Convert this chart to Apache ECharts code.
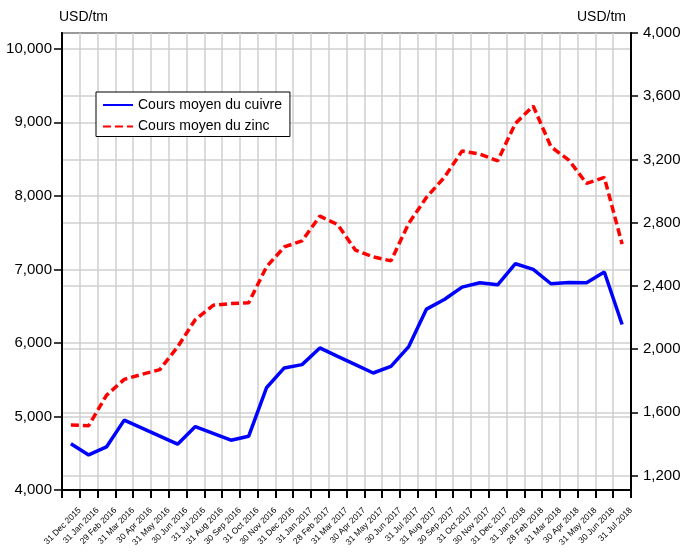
<!DOCTYPE html>
<html>
<head>
<meta charset="utf-8">
<script src="https://cdn.jsdelivr.net/npm/echarts@6/dist/echarts.min.js"></script>
<style>
  html, body { margin: 0; padding: 0; background: #fff; }
  #chart { width: 681px; height: 555px; }
</style>
</head>
<body>
<div id="chart"></div>
<script>
var months = ['31 Dec 2015', '31 Jan 2016', '29 Feb 2016', '31 Mar 2016', '30 Apr 2016', '31 May 2016',
  '30 Jun 2016', '31 Jul 2016', '31 Aug 2016', '30 Sep 2016', '31 Oct 2016', '30 Nov 2016',
  '31 Dec 2016', '31 Jan 2017', '28 Feb 2017', '31 Mar 2017', '30 Apr 2017', '31 May 2017',
  '30 Jun 2017', '31 Jul 2017', '31 Aug 2017', '30 Sep 2017', '31 Oct 2017', '30 Nov 2017',
  '31 Dec 2017', '31 Jan 2018', '28 Feb 2018', '31 Mar 2018', '30 Apr 2018', '31 May 2018',
  '30 Jun 2018', '31 Jul 2018'];

// cuivre, axe de gauche
var copper = [4630, 4477, 4586, 4950, 4841, 4732, 4623, 4863, 4770, 4677, 4732, 5390,
  5660, 5705, 5932, 5818, 5705, 5591, 5682, 5950, 6460, 6591, 6759, 6818,
  6791, 7077, 7000, 6805, 6823, 6818, 6964, 6250];

// zinc, axe de droite
var zinc = [1519, 1515, 1707, 1808, 1840, 1870, 2013, 2187, 2277, 2288, 2293, 2520,
  2646, 2685, 2841, 2788, 2626, 2583, 2558, 2795, 2960, 3086, 3253, 3234,
  3191, 3428, 3538, 3280, 3196, 3048, 3086, 2664];

var leftTicks = [4000, 5000, 6000, 7000, 8000, 9000, 10000];
var rightTicks = [1200, 1600, 2000, 2400, 2800, 3200, 3600, 4000];

var FONT = "'Liberation Sans', Arial, sans-serif";

function fmt(v) {
  return String(v).replace(/\B(?=(\d{3})+(?!\d))/g, ',');
}

var chart = echarts.init(document.getElementById('chart'), null, { renderer: 'canvas' });

var option = {
  animation: false,
  backgroundColor: '#fff',
  textStyle: { fontFamily: FONT, color: '#000' },
  grid: {
    left: 62,
    right: 50,
    top: 33,
    bottom: 65,
    show: true,
    borderColor: '#000',
    borderWidth: 2,
    containLabel: false,
    outerBoundsMode: 'none'
  },
  legend: {
    orient: 'vertical',
    left: 96,
    top: 92,
    backgroundColor: '#fff',
    borderColor: '#000',
    borderWidth: 1,
    padding: [6, 8, 3, 6],
    itemGap: 7.5,
    itemWidth: 30,
    itemHeight: 3,
    itemStyle: { opacity: 0 },
    textStyle: { fontFamily: FONT, fontSize: 14, color: '#000' },
    data: ['Cours moyen du cuivre', 'Cours moyen du zinc']
  },
  xAxis: [
    {
      // axe des données : ticks et grille aux limites des mois
      type: 'category',
      data: months,
      boundaryGap: true,
      position: 'bottom',
      axisLine: { show: true, lineStyle: { color: '#000', width: 2 } },
      axisTick: { show: true, interval: 0, length: 8, lineStyle: { color: '#000', width: 2 } },
      axisLabel: { show: false },
      splitLine: { show: true, interval: 0, lineStyle: { color: '#cfcfcf', width: 1.5 } }
    },
    {
      // libellés posés sur les ticks de fin de mois
      type: 'category',
      data: [''].concat(months),
      boundaryGap: false,
      position: 'bottom',
      axisLine: { show: false },
      axisTick: { show: false },
      splitLine: { show: false },
      axisLabel: {
        interval: 0,
        rotate: 45,
        fontFamily: FONT,
        fontSize: 8.5,
        color: '#000',
        margin: 19
      }
    }
  ],
  yAxis: [
    {
      type: 'value',
      position: 'left',
      min: 4000,
      max: 10215,
      name: 'USD/tm',
      nameLocation: 'end',
      nameGap: 9,
      nameTextStyle: { fontFamily: FONT, fontSize: 14, color: '#000', align: 'left', padding: [0, 0, 0, -3] },
      axisLine: { show: true, lineStyle: { color: '#000', width: 2 } },
      axisTick: { show: true, length: 8, customValues: leftTicks, lineStyle: { color: '#000', width: 1.5 } },
      axisLabel: {
        customValues: leftTicks,
        fontFamily: FONT,
        fontSize: 15,
        color: '#000',
        margin: 10,
        formatter: fmt
      },
      splitLine: { show: true, lineStyle: { color: '#cfcfcf', width: 1.5 } }
    },
    {
      type: 'value',
      position: 'right',
      min: 1108,
      max: 4000,
      name: 'USD/tm',
      nameLocation: 'end',
      nameGap: 9,
      nameTextStyle: { fontFamily: FONT, fontSize: 14, color: '#000', align: 'right', padding: [0, 5, 0, 0] },
      axisLine: { show: true, lineStyle: { color: '#000', width: 2 } },
      axisTick: { show: true, length: 7, customValues: rightTicks, lineStyle: { color: '#000', width: 1.5 } },
      axisLabel: {
        customValues: rightTicks,
        fontFamily: FONT,
        fontSize: 15,
        color: '#000',
        margin: 12,
        formatter: fmt
      },
      splitLine: { show: true, lineStyle: { color: '#cfcfcf', width: 1.5 } }
    }
  ],
  series: [
    {
      name: 'Cours moyen du cuivre',
      type: 'line',
      xAxisIndex: 0,
      yAxisIndex: 0,
      data: copper,
      symbol: 'none',
      showSymbol: false,
      lineStyle: { color: '#0000ff', width: 3.5 },
      itemStyle: { color: '#0000ff' },
      z: 3
    },
    {
      name: 'Cours moyen du zinc',
      type: 'line',
      xAxisIndex: 0,
      yAxisIndex: 1,
      data: zinc,
      symbol: 'none',
      showSymbol: false,
      lineStyle: { color: '#ff0000', width: 3.5, type: [8, 4] },
      itemStyle: { color: '#ff0000' },
      z: 4
    }
  ]
};

chart.setOption(option);
</script>
</body>
</html>
